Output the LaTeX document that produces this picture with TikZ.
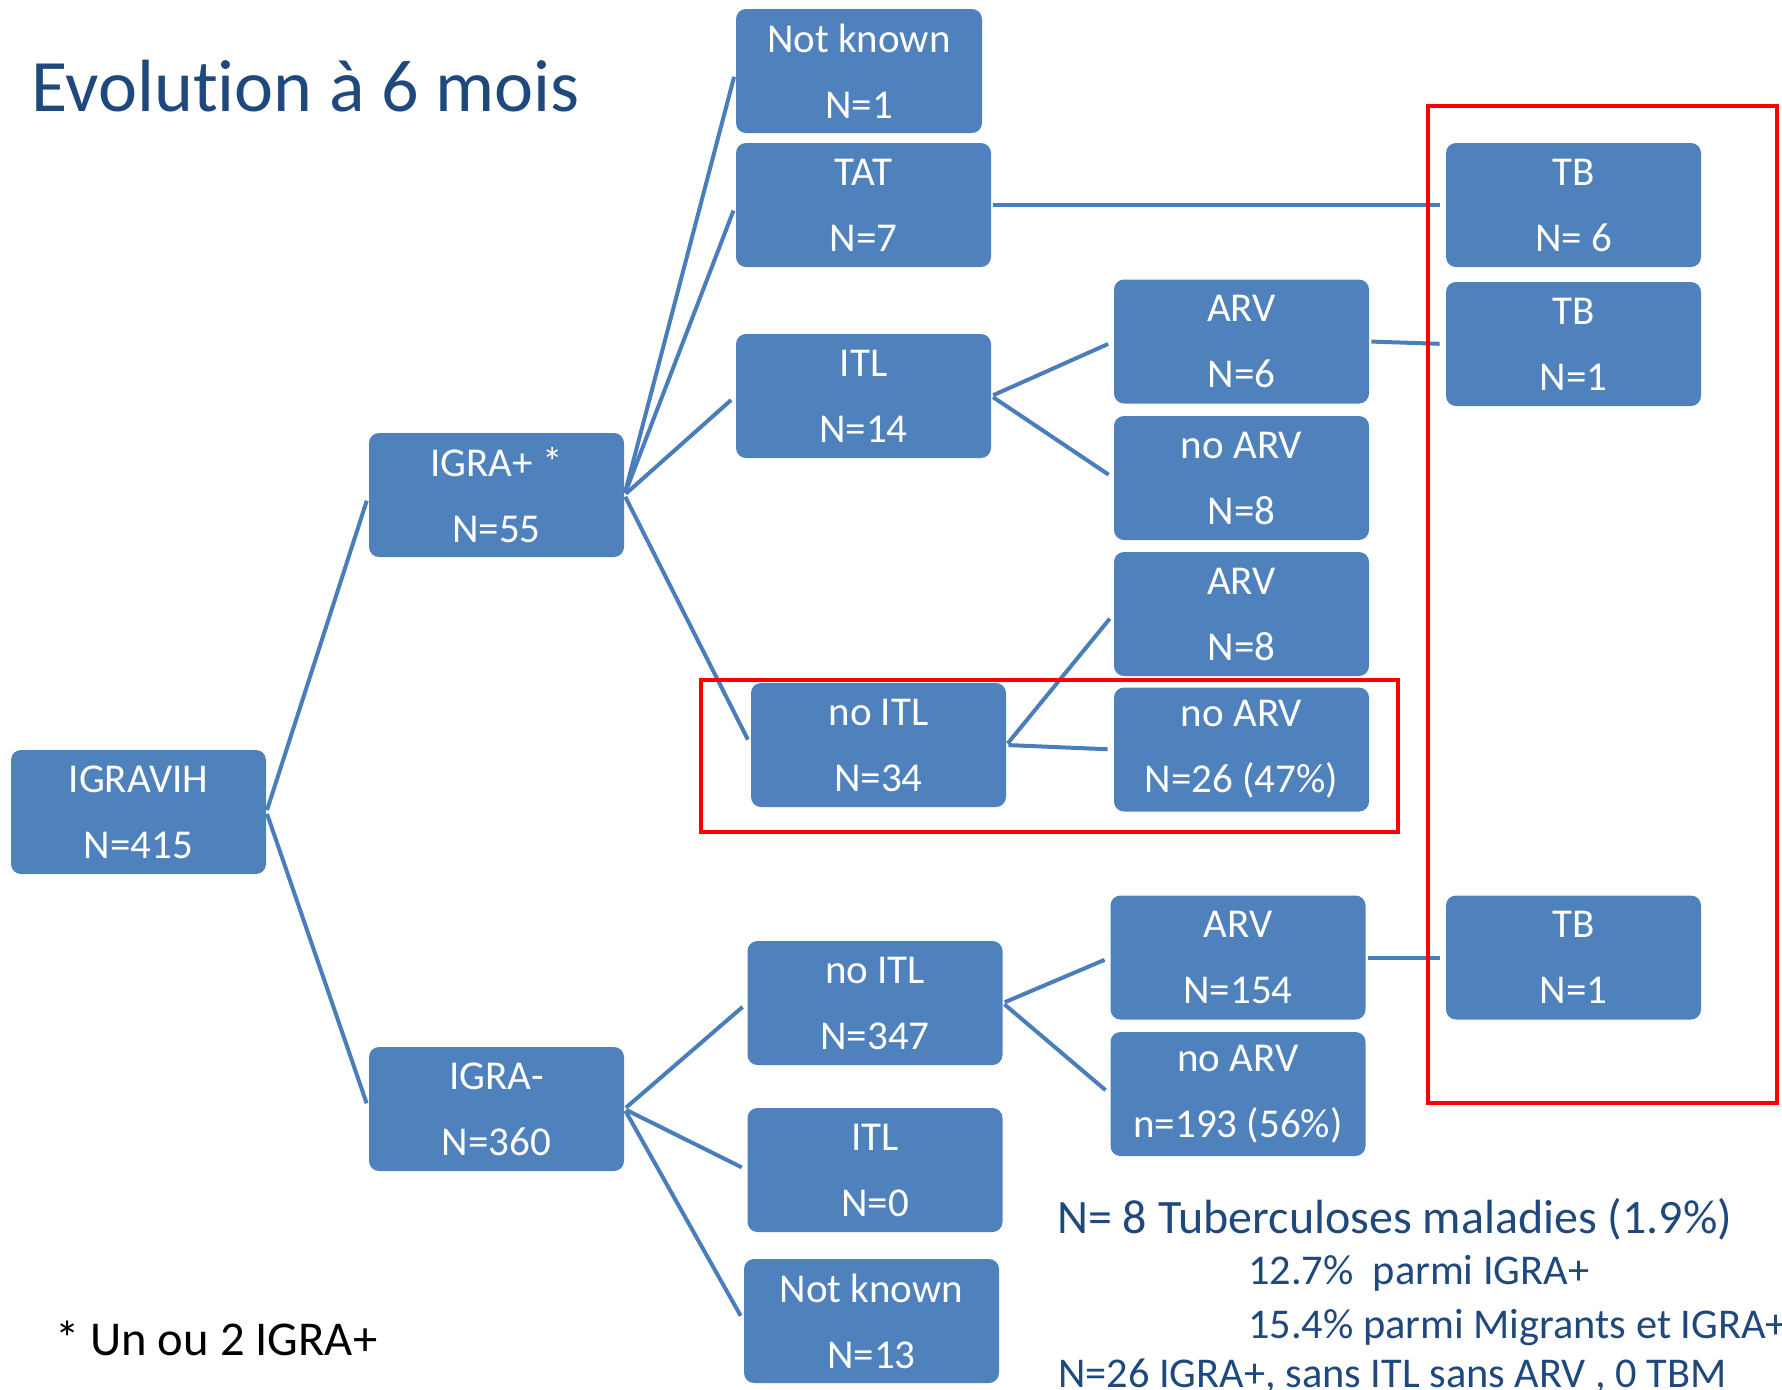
\documentclass[tikz,border=0pt]{standalone}
\usepackage{fontspec}
\setmainfont{Carlito}[Ligatures=NoCommon]
\definecolor{boxblue}{HTML}{4F81BD}
\definecolor{lineblue}{HTML}{4A7EBB}
\definecolor{titleblue}{HTML}{1F497D}

\begin{document}
\begin{tikzpicture}[x=0.5pt,y=-0.5pt,font=\fontsize{20.5}{33}\selectfont]

\tikzset{bluebox/.style={fill=boxblue,draw=none,rounded corners=5pt,text=white,align=center,minimum width=127.5pt,minimum height=62pt,inner sep=0pt},
link/.style={draw=lineblue,line width=2pt,shorten >=3pt,shorten <=1pt},
redframe/.style={draw=red,line width=2.4pt},
notetext/.style={anchor=base west,text=titleblue,font=\fontsize{21.2}{26}\selectfont}}

% Page
\useasboundingbox (0,0) rectangle (1782,1389);

% Title
\node[anchor=base west,text=titleblue,font=\fontsize{37}{44}\selectfont] (title) at (24,111) {Evolution à 6 mois};

% Root and IGRA split
\node[bluebox] (igravih) at (138.5,812) {IGRAVIH\\N=415};
\node[bluebox] (igrap) at (496.5,495) {IGRA+ *\\N=55};
\node[bluebox] (igram) at (496.5,1109) {IGRA-\\N=360};

% IGRA+ branch
\node[bluebox,minimum width=123pt] (nkp) at (859,71) {Not known\\N=1};
\node[bluebox] (tat) at (863.5,205) {TAT\\N=7};
\node[bluebox] (itl) at (863.5,396) {ITL\\N=14};
\node[bluebox] (noitlp) at (878.5,745) {no ITL\\N=34};
\node[bluebox] (arvi) at (1241.5,341.5) {ARV\\N=6};
\node[bluebox] (noarvi) at (1241.5,478) {no ARV\\N=8};
\node[bluebox] (arvn) at (1241.5,614) {ARV\\N=8};
\node[bluebox] (noarvn) at (1241.5,749.5) {no ARV\\N=26 (47\%)};

% IGRA- branch
\node[bluebox] (noitlm) at (875,1003) {no ITL\\N=347};
\node[bluebox] (itlm) at (875,1170) {ITL\\N=0};
\node[bluebox] (nkm) at (871.5,1321) {Not known\\N=13};
\node[bluebox] (arvm) at (1238,957.5) {ARV\\N=154};
\node[bluebox] (noarvm) at (1238,1094) {no ARV\\n=193 (56\%)};

% TB cases
\node[bluebox] (tbtat) at (1573.5,205) {TB\\N= 6};
\node[bluebox] (tbarv) at (1573.5,344) {TB\\N=1};
\node[bluebox] (tbneg) at (1573.5,957.5) {TB\\N=1};

% Links
\foreach \c in {igrap,igram} \draw[link] (igravih.east) -- (\c.west);
\foreach \c in {nkp,tat,itl,noitlp} \draw[link] (igrap.east) -- (\c.west);
\foreach \c in {noitlm,itlm,nkm} \draw[link] (igram.east) -- (\c.west);
\foreach \c in {arvi,noarvi} \draw[link] (itl.east) -- (\c.west);
\foreach \c in {arvn,noarvn} \draw[link] (noitlp.east) -- (\c.west);
\foreach \c in {arvm,noarvm} \draw[link] (noitlm.east) -- (\c.west);
\draw[link] (tat.east) -- (tbtat.west);
\draw[link] (arvi.east) -- (tbarv.west);
\draw[link] (arvm.east) -- (tbneg.west);

% Red frames
\draw[redframe] (701,680) rectangle (1398,832);
\draw[redframe] (1428,106) rectangle (1777,1103);

% Notes
\node[notetext,font=\fontsize{24}{28}\selectfont] (sum) at (1050,1233) {N= 8 Tuberculoses maladies (1.9\%)};
\node[notetext] (pct1) at (1241,1284) {12.7\%\ \ parmi IGRA+};
\node[notetext] (pct2) at (1241,1338) {15.4\% parmi Migrants et IGRA+};
\node[notetext] (tbm) at (1051,1387) {N=26 IGRA+, sans ITL sans ARV , 0 TBM};
\node[notetext,text=black,font=\fontsize{24.3}{28}\selectfont] (star) at (48,1355) {* Un ou 2 IGRA+};

\end{tikzpicture}
\end{document}
